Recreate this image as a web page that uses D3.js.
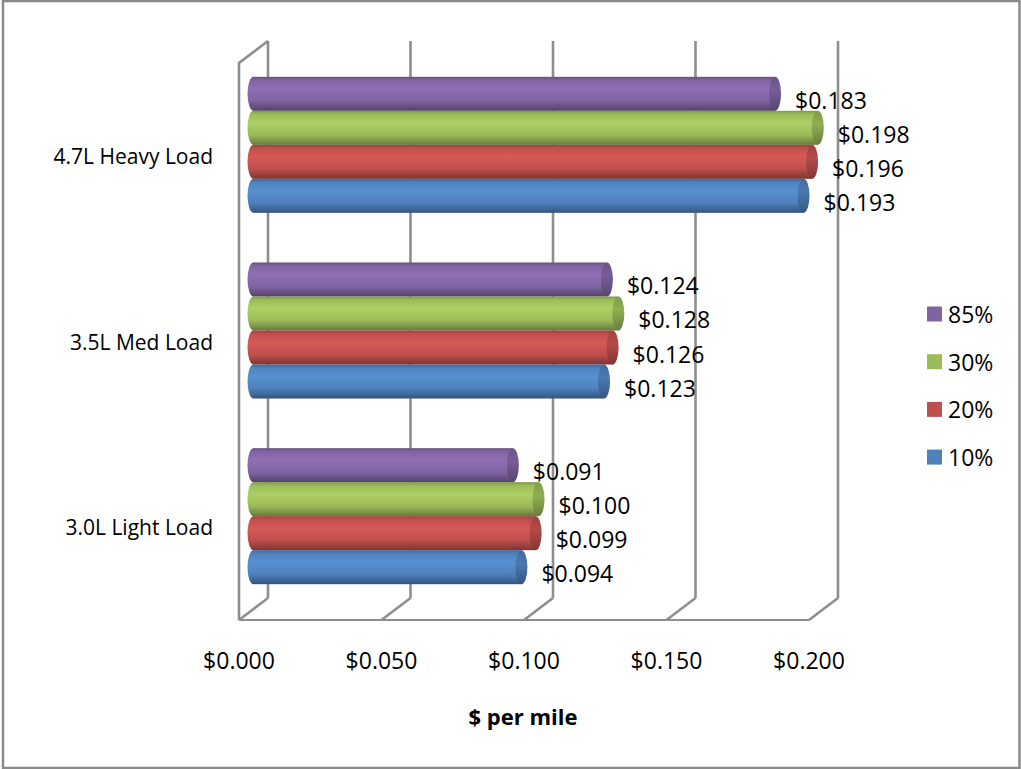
<!DOCTYPE html>
<html>
<head>
<meta charset="utf-8">
<script src="https://cdn.jsdelivr.net/npm/d3@7"></script>
<style>
  body { margin: 0; background: #fff; }
  svg { display: block; font-family: "Open Sans", sans-serif; }
</style>
</head>
<body>
<svg></svg>
<script>
// data
const categories = ["4.7L Heavy Load", "3.5L Med Load", "3.0L Light Load"];
const seriesNames = ["85%", "30%", "20%", "10%"]; // top to bottom inside a group
const seriesColors = ["#8064a2", "#9bbb59", "#c0504d", "#4f81bd"];
const values85 = [0.183, 0.124, 0.091];
const values30 = [0.198, 0.128, 0.100];
const values20 = [0.196, 0.126, 0.099];
const values10 = [0.193, 0.123, 0.094];
const tickValues = [0, 0.05, 0.1, 0.15, 0.2];
const axisTitle = "$ per mile";

const seriesValues = [values85, values30, values20, values10];

const W = 1021, H = 769;
const svg = d3.select("svg").attr("width", W).attr("height", H);

// frame
svg.append("rect")
    .attr("x", 3).attr("y", 1)
    .attr("width", 1016.5).attr("height", 767)
    .attr("fill", "#fff")
    .attr("stroke", "#8a8a8a")
    .attr("stroke-width", 2.5);

// back wall scales, depth is an oblique offset
const x = d3.scaleLinear().domain([0, 0.2]).range([268, 838]);
const y = d3.scaleBand().domain(categories).range([41, 598]);
const yIn = d3.scaleBand().domain(seriesNames).range([0, y.bandwidth()]).paddingOuter(0.73);
const depth = { dx: -29, dy: 22 };
const mid = { dx: depth.dx / 2, dy: depth.dy / 2 };

const gridColor = "#8e8e8e";
const grid = svg.append("g").attr("stroke", gridColor).attr("stroke-width", 2.6).attr("fill", "none");

// back wall gridlines + floor diagonals
tickValues.forEach(t => {
    grid.append("line")
        .attr("x1", x(t)).attr("x2", x(t))
        .attr("y1", y.range()[0]).attr("y2", y.range()[1]);
    grid.append("line")
        .attr("x1", x(t)).attr("y1", y.range()[1])
        .attr("x2", x(t) + depth.dx).attr("y2", y.range()[1] + depth.dy);
});
// floor front edge
grid.append("line")
    .attr("x1", x(0) + depth.dx).attr("x2", x(0.2) + depth.dx)
    .attr("y1", y.range()[1] + depth.dy).attr("y2", y.range()[1] + depth.dy)
    .attr("stroke-width", 2.2);
// side wall front + top
grid.append("path")
    .attr("d", d3.line()([
        [x(0) + depth.dx, y.range()[1] + depth.dy],
        [x(0) + depth.dx, y.range()[0] + depth.dy],
        [x(0), y.range()[0]]
    ]));

// gradients
const defs = svg.append("defs");
seriesNames.forEach((s, i) => {
    const c = d3.color(seriesColors[i]);
    const g = defs.append("linearGradient")
        .attr("id", "grad" + i)
        .attr("x1", 0).attr("y1", 0).attr("x2", 0).attr("y2", 1);
    [
        [0, c.darker(0.6)],
        [0.1, c],
        [0.35, c.brighter(0.3)],
        [0.7, c],
        [0.92, c.darker(0.8)],
        [1, c.darker(1.2)]
    ].forEach(([o, col]) => g.append("stop").attr("offset", o).attr("stop-color", col.formatHex()));
    const cg = defs.append("linearGradient")
        .attr("id", "cap" + i)
        .attr("x1", 0).attr("y1", 0).attr("x2", 0).attr("y2", 1);
    [[0, c.darker(0.5)], [0.4, c.darker(0.2)], [1, c.darker(1.1)]]
        .forEach(([o, col]) => cg.append("stop").attr("offset", o).attr("stop-color", col.formatHex()));
});

// bars (cylinders)
const rx = 6;
const bars = svg.append("g");
const labels = svg.append("g")
    .attr("font-size", 23).attr("fill", "#000");
categories.forEach((cat, ci) => {
    seriesNames.forEach((s, si) => {
        const v = seriesValues[si][ci];
        const top = y(cat) + yIn(s) + mid.dy;
        const h = yIn.bandwidth();
        const x0 = x(0) + mid.dx;
        const x1 = x(v) + mid.dx;
        const b = bars.append("g");
        b.append("ellipse")
            .attr("cx", x0).attr("cy", top + h / 2)
            .attr("rx", rx).attr("ry", h / 2)
            .attr("fill", `url(#grad${si})`);
        b.append("rect")
            .attr("x", x0).attr("y", top)
            .attr("width", x1 - x0).attr("height", h)
            .attr("fill", `url(#grad${si})`);
        b.append("ellipse")
            .attr("cx", x1).attr("cy", top + h / 2)
            .attr("rx", rx).attr("ry", h / 2)
            .attr("fill", `url(#cap${si})`);
        labels.append("text")
            .attr("x", x1 + rx + 14)
            .attr("y", top + h / 2 + 6)
            .attr("dominant-baseline", "central")
            .text("$" + v.toFixed(3));
    });
});

// category labels
svg.append("g")
    .selectAll("text")
    .data(categories)
    .join("text")
    .attr("x", 213)
    .attr("y", d => y(d) + y.bandwidth() / 2 + depth.dy / 2 + 11)
    .attr("text-anchor", "end")
    .attr("dominant-baseline", "central")
    .attr("font-size", 21)
    .text(d => d);

// x tick labels at the front floor edge
svg.append("g")
    .selectAll("text")
    .data(tickValues)
    .join("text")
    .attr("x", d => x(d) + depth.dx)
    .attr("y", 660)
    .attr("text-anchor", "middle")
    .attr("dominant-baseline", "central")
    .attr("font-size", 23)
    .text(d => "$" + d3.format(".3f")(d));

// axis title
svg.append("text")
    .attr("x", 523).attr("y", 716)
    .attr("text-anchor", "middle")
    .attr("dominant-baseline", "central")
    .attr("font-size", 22)
    .attr("font-weight", "bold")
    .text(axisTitle);

// legend
const leg = svg.append("g");
seriesNames.forEach((s, i) => {
    const cy = 314 + i * 47.7;
    leg.append("rect")
        .attr("x", 927).attr("y", cy - 7.5)
        .attr("width", 15).attr("height", 15)
        .attr("fill", seriesColors[i]);
    leg.append("text")
        .attr("x", 948).attr("y", cy)
        .attr("dominant-baseline", "central")
        .attr("font-size", 23)
        .text(s);
});
</script>
</body>
</html>
